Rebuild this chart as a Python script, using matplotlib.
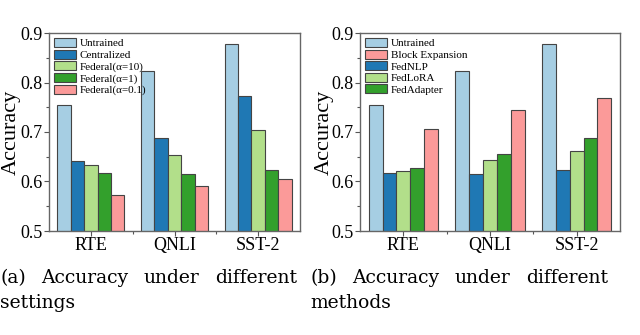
import matplotlib
matplotlib.use('Agg')
import matplotlib.pyplot as plt
import numpy as np
from matplotlib.ticker import MultipleLocator, FixedLocator, FormatStrFormatter

plt.rcParams['font.family'] = ['Liberation Serif', 'DejaVu Serif']

datasets = ['RTE', 'QNLI', 'SST-2']

# (a) settings
settings = ['Untrained', 'Centralized', 'Federal(\u03b1=10)', 'Federal(\u03b1=1)', 'Federal(\u03b1=0.1)']
settings_acc = [
    [0.754, 0.824, 0.877],
    [0.642, 0.687, 0.772],
    [0.633, 0.654, 0.704],
    [0.617, 0.616, 0.623],
    [0.573, 0.591, 0.606],
]

# (b) methods, in bar order
methods = ['Untrained', 'FedNLP', 'FedLoRA', 'FedAdapter', 'Block Expansion']
methods_acc = [
    [0.754, 0.824, 0.877],
    [0.617, 0.616, 0.623],
    [0.622, 0.644, 0.662],
    [0.628, 0.656, 0.688],
    [0.706, 0.744, 0.768],
]
methods_legend_order = ['Untrained', 'Block Expansion', 'FedNLP', 'FedLoRA', 'FedAdapter']

caption_a = ['(a)', 'Accuracy', 'under', 'different']
caption_b = ['(b)', 'Accuracy', 'under', 'different']

c_lblue = '#a6cee3'
c_dblue = '#1f78b4'
c_lgreen = '#b2df8a'
c_green = '#33a02c'
c_pink = '#fb9a99'
bar_colors = [c_lblue, c_dblue, c_lgreen, c_green, c_pink]


def draw(ax, names, values, colors, legend_order):
    x = np.arange(len(datasets))
    w = 0.16
    handles = {}
    for i, (name, vals, col) in enumerate(zip(names, values, colors)):
        handles[name] = ax.bar(x + (i - 2) * w, vals, w, color=col,
                               edgecolor='#444444', linewidth=0.8, label=name)
    ax.set_ylim(0.5, 0.9)
    ax.set_xlim(-0.5, 2.5)
    ax.set_xticks(x)
    ax.set_xticklabels(datasets)
    ax.xaxis.set_minor_locator(FixedLocator([0.5, 1.5]))
    ax.yaxis.set_major_locator(MultipleLocator(0.1))
    ax.yaxis.set_minor_locator(MultipleLocator(0.05))
    ax.yaxis.set_major_formatter(FormatStrFormatter('%.1f'))
    ax.tick_params(axis='both', which='major', labelsize=13, length=3.5,
                   width=0.8, color='#555555', pad=1)
    ax.tick_params(axis='both', which='minor', length=2, width=0.8, color='#555555')
    for s in ax.spines.values():
        s.set_color('#666666')
        s.set_linewidth(1.0)
    ax.legend([handles[n] for n in legend_order], legend_order, loc='upper left',
              frameon=False, fontsize=8, handlelength=2.0, handleheight=0.9,
              handletextpad=0.3, labelspacing=0.1, borderaxespad=0.25,
              borderpad=0.2)


fig = plt.figure(figsize=(6.4, 3.35), dpi=100)
ax1 = fig.add_axes([49 / 640, 104 / 335, 251 / 640, 198 / 335])
ax2 = fig.add_axes([360 / 640, 104 / 335, 260 / 640, 198 / 335])

draw(ax1, settings, settings_acc, bar_colors, settings)
draw(ax2, methods, methods_acc, bar_colors, methods_legend_order)

fig.text(11 / 640, 0.5 * (104 + 302) / 335, 'Accuracy', rotation=90,
         fontsize=16, ha='center', va='center')
fig.text(324 / 640, 0.5 * (104 + 302) / 335, 'Accuracy', rotation=90,
         fontsize=16, ha='center', va='center')

# justified captions
cap_font = dict(fontsize=13.5, family=['DejaVu Serif'])
y1 = (335 - 283) / 335
y2 = (335 - 308) / 335
renderer = fig.canvas.get_renderer()
for words, x0, x1 in [(caption_a, 0, 297), (caption_b, 310, 608)]:
    texts = [fig.text(0, y1, wd, ha='left', va='baseline', **cap_font)
             for wd in words]
    widths = [t.get_window_extent(renderer).width for t in texts]
    gap = (x1 - x0 - sum(widths)) / (len(words) - 1)
    xp = x0
    for t, wdt in zip(texts, widths):
        t.set_x(xp / 640)
        xp += wdt + gap
fig.text(0 / 640, y2, 'settings', ha='left', va='baseline', **cap_font)
fig.text(310 / 640, y2, 'methods', ha='left', va='baseline', **cap_font)

fig.savefig('out.png', dpi=100)
